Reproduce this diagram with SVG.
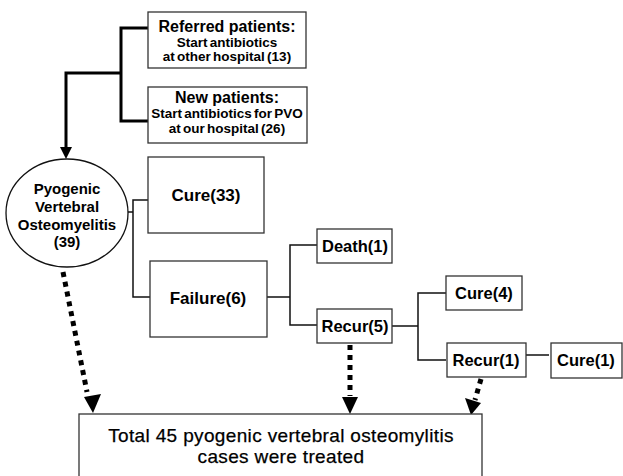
<svg xmlns="http://www.w3.org/2000/svg" width="623" height="476" viewBox="0 0 623 476">
<defs>
<style>
.box{fill:#fff;stroke:#333;stroke-width:1.3}
.b{font-family:"Liberation Sans",Arial,sans-serif;font-weight:bold;fill:#000;text-anchor:middle}
.t1{font-size:16px}
.t2{font-size:13.5px;word-spacing:-1.5px}
.t3{font-size:15px}
.t4{font-size:17px}
.t5{font-size:16.5px}
.n{font-family:"Liberation Sans",Arial,sans-serif;font-size:19px;letter-spacing:0.35px;fill:#000;stroke:#000;stroke-width:0.25;text-anchor:middle}
.thick{fill:none;stroke:#000;stroke-width:3}
.thin{fill:none;stroke:#111;stroke-width:1.5}
.dot{fill:none;stroke:#000;stroke-width:5;stroke-dasharray:5 5}
.head{fill:#000}
</style>
</defs>

<g id="connectors">
<path class="thick" d="M148,28 H121 V121 H148 M121,73 H66 V148"/>
<path class="head" d="M60,147 H72 L66,159 Z"/>
<path class="thin" d="M128,212 H133 M148,200 H133 V297 H150"/>
<path class="thin" d="M267,297 H290 M317,245 H290 V325 H317"/>
<path class="thin" d="M392,326 H418 M446,293 H418 V360 H446"/>
<path class="thin" d="M526,355 H549"/>
<path class="dot" d="M63,272 L87,392"/>
<path class="head" d="M84,397 L101,394 L93,413 Z"/>
<path class="dot" d="M350,345 V396"/>
<path class="head" d="M342,397 L358,397 L350,414 Z"/>
<path class="dot" d="M481,379 L475,400"/>
<path class="head" d="M465,398 L481,403 L471,415 Z"/>
</g>

<g id="referred">
<rect class="box" x="148" y="12" width="158" height="56"/>
<text class="b t1" x="227" y="32">Referred patients:</text>
<text class="b t2" x="227" y="47">Start antibiotics</text>
<text class="b t2" x="227" y="61">at other hospital (13)</text>
</g>

<g id="newpatients">
<rect class="box" x="148" y="87" width="159" height="56"/>
<text class="b t1" x="227" y="103">New patients:</text>
<text class="b t2" x="227" y="118">Start antibiotics for PVO</text>
<text class="b t2" x="227" y="133">at our hospital (26)</text>
</g>

<g id="pvo">
<ellipse cx="67" cy="213" rx="61" ry="54" fill="#fff" stroke="#111" stroke-width="1.3"/>
<text class="b t3" x="67" y="194">Pyogenic</text>
<text class="b t3" x="67" y="212">Vertebral</text>
<text class="b t3" x="67" y="230">Osteomyelitis</text>
<text class="b t3" x="67" y="247">(39)</text>
</g>

<g id="cure33">
<rect class="box" x="148" y="157" width="116" height="76"/>
<text class="b t4" x="206" y="201">Cure(33)</text>
</g>

<g id="failure6">
<rect class="box" x="150" y="261" width="117" height="76"/>
<text class="b t4" x="208" y="304">Failure(6)</text>
</g>

<g id="death1">
<rect class="box" x="317" y="229" width="75" height="34"/>
<text class="b t5" x="355" y="252">Death(1)</text>
</g>

<g id="recur5">
<rect class="box" x="317" y="309" width="75" height="34"/>
<text class="b t5" x="355" y="332">Recur(5)</text>
</g>

<g id="cure4">
<rect class="box" x="446" y="276" width="76" height="34"/>
<text class="b t5" x="484" y="299">Cure(4)</text>
</g>

<g id="recur1">
<rect class="box" x="447" y="343" width="79" height="34"/>
<text class="b t5" x="486" y="366">Recur(1)</text>
</g>

<g id="cure1">
<rect class="box" x="551" y="343" width="71" height="35"/>
<text class="b t5" x="586" y="366">Cure(1)</text>
</g>

<g id="total">
<rect class="box" x="79" y="414" width="403" height="70"/>
<text class="n" x="281" y="442">Total 45 pyogenic vertebral osteomylitis</text>
<text class="n" x="281" y="463">cases were treated</text>
</g>
</svg>
